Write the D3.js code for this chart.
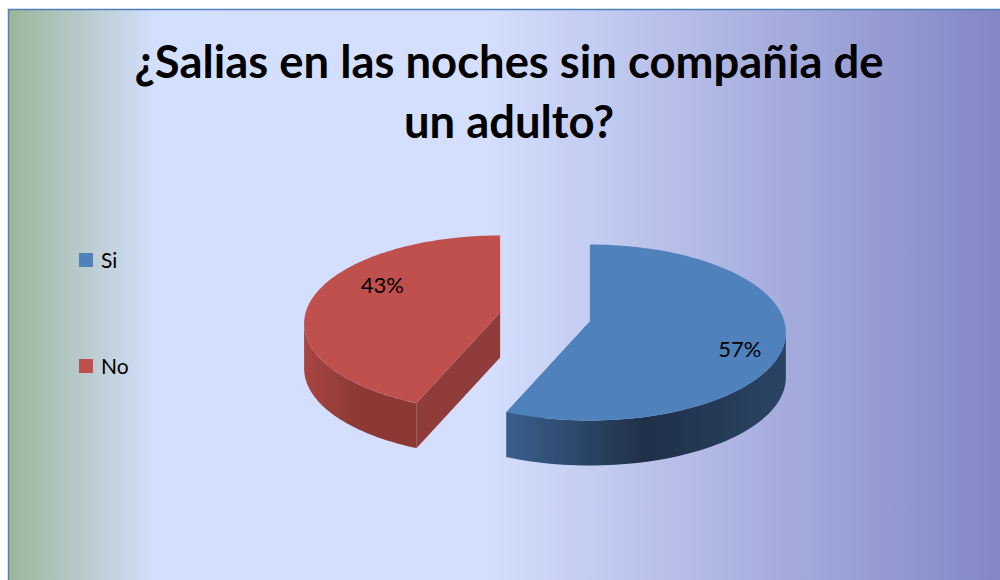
<!DOCTYPE html>
<html>
<head>
<meta charset="utf-8">
<script src="https://cdn.jsdelivr.net/npm/d3@7"></script>
<style>
  html, body { margin: 0; padding: 0; background: #fff; }
  svg { display: block; }
</style>
</head>
<body>
<div id="chart"></div>
<script>
const categories = ['Si', 'No']
const values = [57, 43]
const labels = ['57%', '43%']
const titleLines = ['¿Salias en las noches sin compañia de', 'un adulto?']

const colors = ['#4f81bd', '#c0504d']
const wallDark = [['#3a5f8d', '#1f3049', '#2b4465'], ['#a84542', '#8c3936', '#8c3936']]

const width = 1000
const height = 580
const svg = d3.select('#chart').append('svg')
  .attr('width', width)
  .attr('height', height)

const defs = svg.append('defs')
const bg = defs.append('linearGradient').attr('id', 'bg')
  .attr('x1', 0).attr('x2', 1).attr('y1', 0).attr('y2', 0)
bg.selectAll('stop')
  .data([[0, '#9db59a'], [0.15, '#d4e0ff'], [0.48, '#d4defd'], [1, '#8186c4']])
  .enter().append('stop')
  .attr('offset', d => d[0])
  .attr('stop-color', d => d[1])

svg.append('rect')
  .attr('x', 8.5).attr('y', 9.5)
  .attr('width', width).attr('height', height)
  .attr('fill', 'url(#bg)')
  .attr('stroke', '#4f81bd')
  .attr('stroke-width', 1.5)

const title = svg.append('text')
  .attr('text-anchor', 'middle')
  .attr('font-family', 'Lato, sans-serif')
  .attr('font-weight', 'bold')
  .attr('font-size', 45.4)
  .attr('fill', '#000')
title.selectAll('tspan')
  .data(titleLines)
  .enter().append('tspan')
  .attr('x', 509)
  .attr('y', (d, i) => 78 + i * 60)
  .text(d => d)

// legend
const legend = svg.append('g')
  .selectAll('g')
  .data(categories)
  .enter().append('g')
  .attr('transform', (d, i) => `translate(79, ${253 + i * 106})`)
legend.append('rect')
  .attr('width', 14).attr('height', 14)
  .attr('fill', (d, i) => colors[i])
legend.append('text')
  .attr('x', 22).attr('y', 15)
  .attr('font-family', 'Lato, sans-serif')
  .attr('font-size', 21)
  .text(d => d)

// 3d pie
const pie = d3.pie().sort(null)
const arcs = pie(values)
const center = [545, 317]
const rx = 196
const ry = 88
const persp = 11 // ellipse centre sits a little below the apex
const depth = 45
const explode = 46

function offsetOf (a) {
  const mid = (a.startAngle + a.endAngle) / 2
  return [Math.sin(mid) * explode, -Math.cos(mid) * explode * ry / rx]
}

function rim (o, ang, dz = 0) {
  return [center[0] + o[0] + rx * Math.sin(ang), center[1] + o[1] + persp - ry * Math.cos(ang) + dz]
}

const line = d3.line()

arcs.forEach((a, i) => {
  const gr = defs.append('linearGradient').attr('id', 'wall' + i)
    .attr('x1', 0).attr('x2', 1).attr('y1', 0).attr('y2', 0)
  gr.selectAll('stop')
    .data(wallDark[i])
    .enter().append('stop')
    .attr('offset', (d, j) => j / (wallDark[i].length - 1))
    .attr('stop-color', d => d)
})

const g = svg.append('g')

arcs.forEach((a, i) => {
  const o = offsetOf(a)
  const apex = [center[0] + o[0], center[1] + o[1]]
  const sg = g.append('g')

  // radial faces
  ;[a.startAngle, a.endAngle].forEach(ang => {
    const p = rim(o, ang)
    const q = rim(o, ang, depth)
    sg.append('path')
      .attr('d', line([apex, p, q, [apex[0], apex[1] + depth]]) + 'Z')
      .attr('fill', d3.color(colors[i]).darker(0.8))
  })

  // outer wall, front half only
  const w0 = Math.max(a.startAngle, Math.PI / 2)
  const w1 = Math.min(a.endAngle, Math.PI * 1.5)
  if (w1 > w0) {
    const angs = d3.range(0, 61).map(t => w0 + (w1 - w0) * t / 60)
    const topPts = angs.map(t => rim(o, t))
    const botPts = angs.slice().reverse().map(t => rim(o, t, depth))
    sg.append('path')
      .attr('d', line(topPts.concat(botPts)) + 'Z')
      .attr('fill', `url(#wall${i})`)
  }

  // top face
  const angs = d3.range(0, 121).map(t => a.startAngle + (a.endAngle - a.startAngle) * t / 120)
  sg.append('path')
    .attr('d', line([apex].concat(angs.map(t => rim(o, t)))) + 'Z')
    .attr('fill', colors[i])

  // value label
  const mid = (a.startAngle + a.endAngle) / 2
  sg.append('text')
    .attr('x', apex[0] + Math.sin(mid) * rx * 0.7 + 16)
    .attr('y', apex[1] - Math.cos(mid) * 124 + 8)
    .attr('text-anchor', 'middle')
    .attr('font-family', 'Lato, sans-serif')
    .attr('font-size', 22)
    .text(labels[i])
})
</script>
</body>
</html>
